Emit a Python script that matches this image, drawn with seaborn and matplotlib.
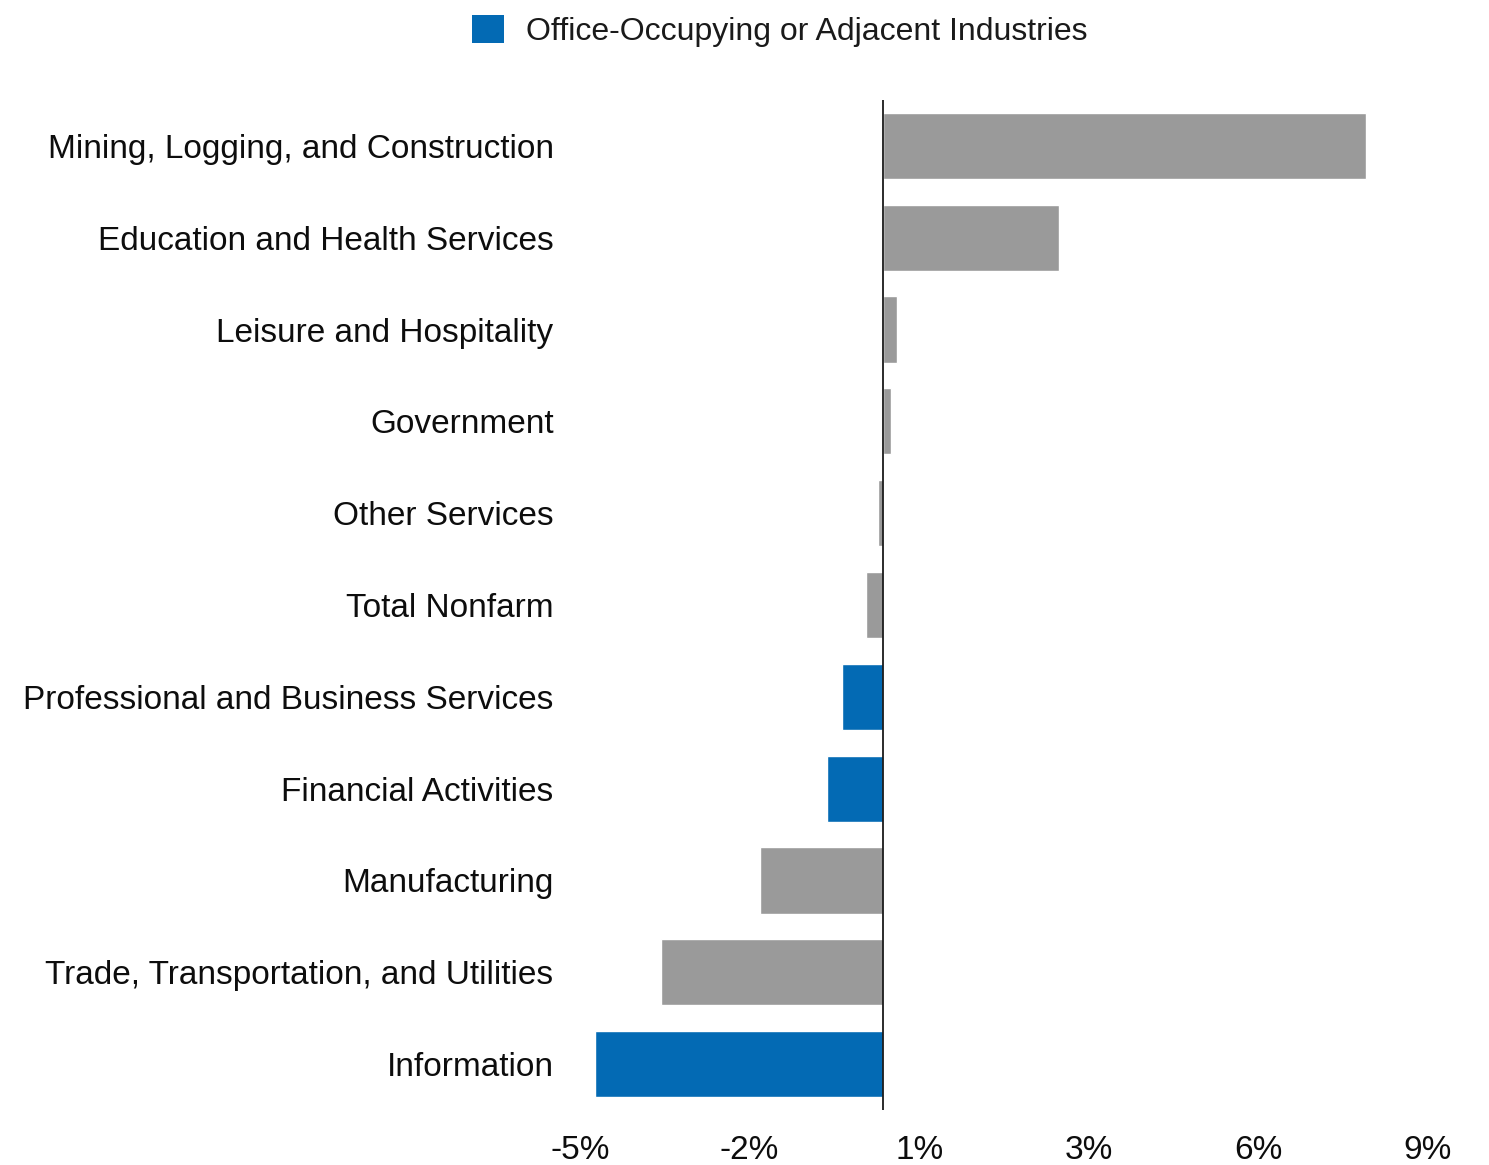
import matplotlib
matplotlib.use("Agg")
import matplotlib.pyplot as plt
from matplotlib.patches import Patch
import seaborn as sns
import pandas as pd

# Year-over-year employment change by industry (%)
industries = [
    "Mining, Logging, and Construction",
    "Education and Health Services",
    "Leisure and Hospitality",
    "Government",
    "Other Services",
    "Total Nonfarm",
    "Professional and Business Services",
    "Financial Activities",
    "Manufacturing",
    "Trade, Transportation, and Utilities",
    "Information",
]
changes = [7.98, 2.90, 0.23, 0.14, -0.08, -0.28, -0.68, -0.92, -2.03, -3.66, -4.75]
office_related = [False, False, False, False, False, False, True, True, False, False, True]

tick_values = [-5.0, -2.2, 0.6, 3.4, 6.2, 9.0]
tick_labels = ["-5%", "-2%", "1%", "3%", "6%", "9%"]

legend_label = "Office-Occupying or Adjacent Industries"
blue = "#036AB4"
gray = "#9A9A9A"

df = pd.DataFrame({
    "industry": industries,
    "change": changes,
    "group": ["office" if o else "other" for o in office_related],
})

sns.set_theme(style="white")
plt.rcParams["font.family"] = ["Liberation Sans", "DejaVu Sans"]

fig = plt.figure(figsize=(14.89, 11.65), dpi=100)
ax = fig.add_axes([580 / 1489, 1 - 1110 / 1165, (1428 - 580) / 1489, (1110 - 100) / 1165])

sns.barplot(
    data=df, x="change", y="industry", hue="group",
    palette={"office": blue, "other": gray},
    dodge=False, width=0.72, orient="h", legend=False,
    saturation=1, ax=ax,
)

ax.axvline(0, color="#1a1a1a", linewidth=1.3, zorder=5)

ax.set_xlim(-5, 9)
ax.set_ylim(10.5, -0.5)
ax.set_xticks(tick_values)
ax.set_xticklabels(tick_labels)
ax.set_xlabel("")
ax.set_ylabel("")
for side in ["top", "right", "bottom", "left"]:
    ax.spines[side].set_visible(False)
ax.tick_params(axis="x", length=0, labelsize=24, pad=18, colors="#0d0d0d")
ax.tick_params(axis="y", length=0, labelsize=24, pad=19, colors="#0d0d0d")
ax.grid(False)

fig.legend(
    handles=[Patch(facecolor=blue, edgecolor="none", label=legend_label)],
    loc="upper center", bbox_to_anchor=(780 / 1489, 1.012),
    frameon=False, fontsize=23, handlelength=1.0, handleheight=1.0,
    handletextpad=0.7, labelcolor="#1a1a1a",
)

fig.savefig("out.png", dpi=100, facecolor="white")
